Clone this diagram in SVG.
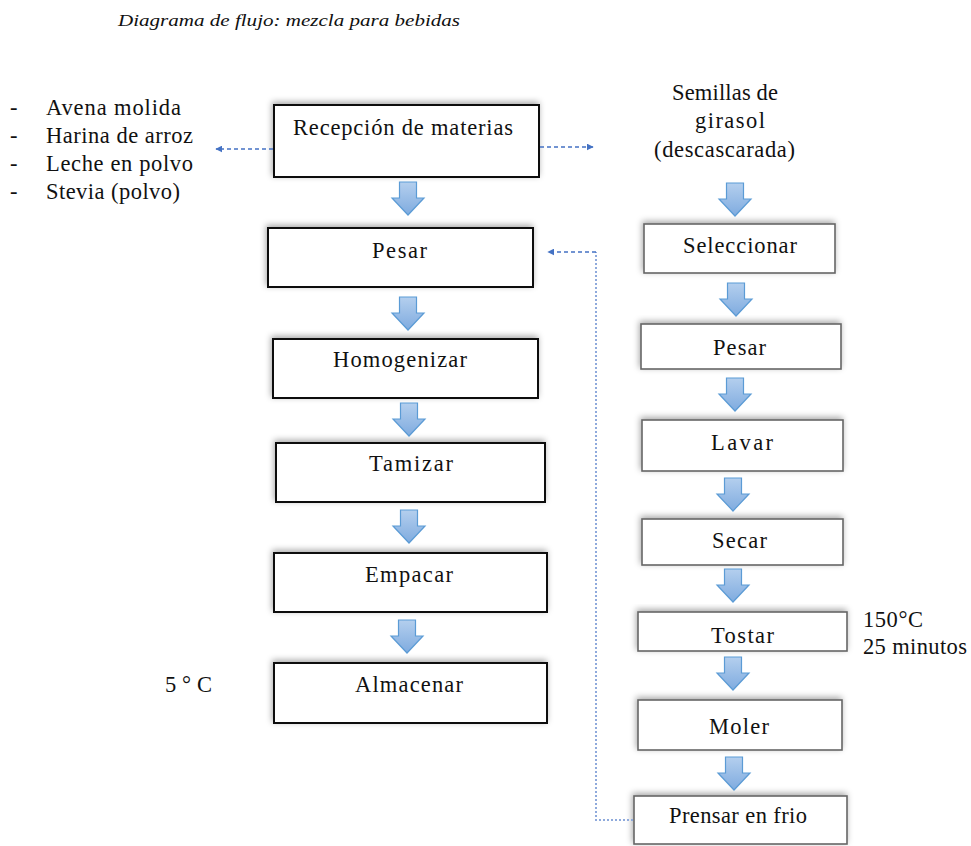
<svg xmlns="http://www.w3.org/2000/svg" xmlns:xlink="http://www.w3.org/1999/xlink" width="971" height="846" viewBox="0 0 971 846">
<defs>
<style>
text{font-family:"Liberation Serif","Times New Roman",serif;font-size:22.5px;fill:#111;}
.title{font-style:italic;font-size:17px;}
.bl{fill:#fff;stroke:#111;stroke-width:2;filter:url(#sh);}
.br{fill:#fff;stroke:#666;stroke-width:1.6;filter:url(#sh);}
.dash{fill:none;stroke:#4472c4;stroke-width:1.5;stroke-dasharray:4 3;}
.dot{fill:none;stroke:#8faadc;stroke-width:2;stroke-dasharray:2 2;}
</style>
<linearGradient id="ag" x1="0" y1="0" x2="0" y2="1">
<stop offset="0" stop-color="#b4cfee"/>
<stop offset="1" stop-color="#7fabdf"/>
</linearGradient>
<filter id="sh" x="-10%" y="-20%" width="120%" height="140%">
<feDropShadow dx="-1" dy="-2" stdDeviation="3" flood-color="#000" flood-opacity="0.35"/>
</filter>
<path id="ar" d="M-8.5 0 H8.5 V16 H16 L0 33 L-16 16 H-8.5 Z" fill="url(#ag)" stroke="#5b9bd5" stroke-width="1.2"/>
<marker id="mh" viewBox="0 0 10 10" refX="9" refY="5" markerWidth="7" markerHeight="7" orient="auto" markerUnits="userSpaceOnUse">
<path d="M0 0 L10 5 L0 10 Z" fill="#4472c4"/>
</marker>
</defs>

<text class="title" x="118" y="26" textLength="342" lengthAdjust="spacingAndGlyphs">Diagrama de flujo: mezcla para bebidas</text>

<g id="list">
<text x="10" y="115">-</text><text x="46" y="115" textLength="135" lengthAdjust="spacing">Avena molida</text>
<text x="10" y="143">-</text><text x="46" y="143" textLength="147" lengthAdjust="spacing">Harina de arroz</text>
<text x="10" y="171">-</text><text x="46" y="171" textLength="147" lengthAdjust="spacing">Leche en polvo</text>
<text x="10" y="199">-</text><text x="46" y="199" textLength="134" lengthAdjust="spacing">Stevia (polvo)</text>
</g>

<g id="semillas">
<text x="672" y="100" textLength="106" lengthAdjust="spacing">Semillas de</text>
<text x="695" y="128" textLength="70" lengthAdjust="spacing">girasol</text>
<text x="654" y="157" textLength="141" lengthAdjust="spacing">(descascarada)</text>
</g>

<g id="n-recepcion"><rect class="bl" x="274" y="105" width="265" height="72"/><text x="293" y="135" textLength="220" lengthAdjust="spacing">Recepción de materias</text></g>
<g id="n-pesar1"><rect class="bl" x="268" y="228" width="265" height="59"/><text x="372" y="258" textLength="55" lengthAdjust="spacing">Pesar</text></g>
<g id="n-homogenizar"><rect class="bl" x="273" y="339" width="265" height="59"/><text x="333" y="367" textLength="134" lengthAdjust="spacing">Homogenizar</text></g>
<g id="n-tamizar"><rect class="bl" x="276" y="443" width="269" height="59"/><text x="369" y="471" textLength="84" lengthAdjust="spacing">Tamizar</text></g>
<g id="n-empacar"><rect class="bl" x="274" y="553" width="273" height="59"/><text x="365" y="582" textLength="88" lengthAdjust="spacing">Empacar</text></g>
<g id="n-almacenar"><rect class="bl" x="274" y="663" width="273" height="60"/><text x="355" y="692" textLength="108" lengthAdjust="spacing">Almacenar</text></g>
<g id="temp5"><text x="165" y="692" textLength="47" lengthAdjust="spacing">5 ° C</text></g>

<g id="n-seleccionar"><rect class="br" x="644" y="224" width="191" height="49"/><text x="683" y="253" textLength="114" lengthAdjust="spacing">Seleccionar</text></g>
<g id="n-pesar2"><rect class="br" x="641" y="324" width="200" height="45"/><text x="713" y="355" textLength="53" lengthAdjust="spacing">Pesar</text></g>
<g id="n-lavar"><rect class="br" x="642" y="420" width="201" height="51"/><text x="711" y="450" textLength="62" lengthAdjust="spacing">Lavar</text></g>
<g id="n-secar"><rect class="br" x="642" y="519" width="201" height="46"/><text x="712" y="548" textLength="55" lengthAdjust="spacing">Secar</text></g>
<g id="n-tostar"><rect class="br" x="638" y="612" width="209" height="39"/><text x="711" y="643" textLength="63" lengthAdjust="spacing">Tostar</text></g>
<g id="tostar-note"><text x="863" y="627" textLength="60" lengthAdjust="spacing">150°C</text><text x="863" y="654" textLength="104" lengthAdjust="spacing">25 minutos</text></g>
<g id="n-moler"><rect class="br" x="638" y="700" width="204" height="50"/><text x="709" y="734" textLength="60" lengthAdjust="spacing">Moler</text></g>
<g id="n-prensar"><rect class="br" x="634" y="796" width="213" height="48"/><text x="669" y="823" textLength="138" lengthAdjust="spacing">Prensar en frio</text></g>

<g id="connectors">
<use xlink:href="#ar" x="408" y="182"/>
<use xlink:href="#ar" x="408" y="297"/>
<use xlink:href="#ar" x="409" y="403"/>
<use xlink:href="#ar" x="409" y="510"/>
<use xlink:href="#ar" x="407" y="620"/>
<use xlink:href="#ar" x="735" y="183"/>
<use xlink:href="#ar" x="736" y="283"/>
<use xlink:href="#ar" x="735" y="378"/>
<use xlink:href="#ar" x="733" y="478"/>
<use xlink:href="#ar" x="733" y="569"/>
<use xlink:href="#ar" x="733" y="657"/>
<use xlink:href="#ar" x="734" y="757"/>
<path class="dash" d="M273 149 H216" marker-end="url(#mh)"/>
<path class="dash" d="M540 147 H593" marker-end="url(#mh)"/>
<path class="dot" d="M633 820 H596 V252"/>
<path class="dash" d="M596 252 H548" marker-end="url(#mh)"/>
</g>
</svg>
